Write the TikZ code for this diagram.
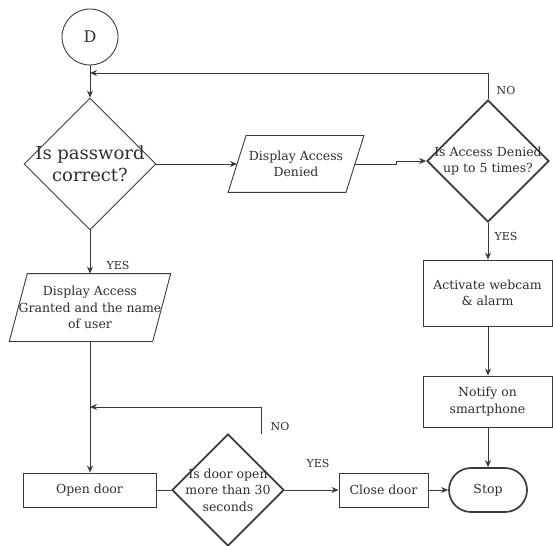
\documentclass[tikz,border=0pt]{standalone}
\usepackage{fontspec}
\setmainfont{DejaVu Serif}
\usetikzlibrary{shapes.geometric,arrows.meta}
\definecolor{ln}{HTML}{3A3A3A}
\definecolor{tx}{HTML}{2E2E2E}
\begin{document}
\begin{tikzpicture}[x=1pt,y=-1pt,
  line width=0.9pt, draw=ln, text=tx,
  every node/.style={font=\fontsize{12.5}{16.5}\selectfont, text=tx, align=center, inner sep=0pt},
  arr/.style={draw=ln, line width=0.9pt, -{Stealth[length=7pt,width=6pt]}},
  plain/.style={draw=ln, line width=0.9pt},
  boxx/.style={draw=ln, line width=0.9pt, rectangle},
  dia/.style={draw=ln, diamond, line width=0.9pt},
  thickdia/.style={draw=ln, diamond, line width=1.7pt},
  lbl/.style={font=\fontsize{11}{13}\selectfont},
  para/.style={draw=ln, line width=0.9pt}
]
\useasboundingbox (0,0) rectangle (553,545);

% start
\node[draw=ln, circle, minimum size=56pt, font=\fontsize{16}{18}\selectfont] (D) at (90,37) {D};

% decision 1
\node[dia, minimum width=132pt, minimum height=132pt] (d1) at (90,164) {};
\node[font=\fontsize{18}{22}\selectfont] (d1t) at (d1.center) {Is password\\correct?};

% display access denied (parallelogram)
\node[minimum width=117pt, minimum height=56pt] (pd) at (296,164) {Display Access\\Denied};
\draw[para] ([xshift=9pt]pd.north west) -- ([xshift=9pt]pd.north east) -- ([xshift=-9pt]pd.south east) -- ([xshift=-9pt]pd.south west) -- cycle;

% decision 2
\node[thickdia, minimum width=122pt, minimum height=122pt] (d2) at (488,161) {};
\node (d2t) at (d2.center) {Is Access Denied\\up to 5 times?};

% webcam
\node[boxx, minimum width=129pt, minimum height=66pt] (wc) at (487.5,293) {Activate webcam\\\& alarm};
% notify
\node[boxx, minimum width=129pt, minimum height=51pt] (nt) at (487.5,401.5) {Notify on\\smartphone};
% stop
\node[draw=ln, line width=1.7pt, rectangle, rounded corners=22pt, minimum width=78pt, minimum height=44pt] (stop) at (488,490) {Stop};
% close door
\node[boxx, minimum width=89pt, minimum height=34pt] (cd) at (383.5,490) {Close door};

% decision 3
\node[thickdia, minimum width=112pt, minimum height=112pt] (d3) at (228,490) {};
\node (d3t) at (d3.center) {Is door open\\more than 30\\seconds};

% open door
\node[boxx, minimum width=133pt, minimum height=34pt] (od) at (89.5,490) {Open door};

% display access granted (parallelogram)
\node[minimum width=142pt, minimum height=67pt] (pg) at (90,307.5) {Display Access\\Granted and the name\\of user};
\draw[para] ([xshift=9pt]pg.north west) -- ([xshift=9pt]pg.north east) -- ([xshift=-9pt]pg.south east) -- ([xshift=-9pt]pg.south west) -- cycle;

% junction coordinates
\coordinate (j1) at (90,73);
\coordinate (j2) at (90,407);
\coordinate (n1) at (261,434);

% connectors
\draw[arr] (D.south) -- (d1.north);
\draw[arr] (d2.north) |- (j1);
\draw[arr] (d1.east) -- (pd.west);
\draw[arr] (pd.east) -- ++(41,0) |- (d2.west);
\draw[arr] (d2.south) -- (d2.south |- wc.north);
\draw[arr] (wc.south -| d2.south) -- (d2.south |- nt.north);
\draw[arr] (nt.south -| d2.south) -- (stop.north);
\draw[arr] (cd.east) -- (stop.west);
\draw[arr] (d3.east) -- (cd.west);
\draw[plain] (od.east) -- (d3.west);
\draw[arr] (d1.south) -- (d1.south |- pg.north);
\draw[arr] (d1.south |- pg.south) -- (d1.south |- od.north);
\draw[arr] (n1) -- (n1 |- j2) -- (j2);

% labels
\node[lbl] (lno1) at (506,90) {NO};
\node[lbl] (lyes2) at (506,236) {YES};
\node[lbl] (lyes1) at (118,265) {YES};
\node[lbl] (lno2) at (280,426) {NO};
\node[lbl] (lyes3) at (318,463) {YES};
\end{tikzpicture}
\end{document}
